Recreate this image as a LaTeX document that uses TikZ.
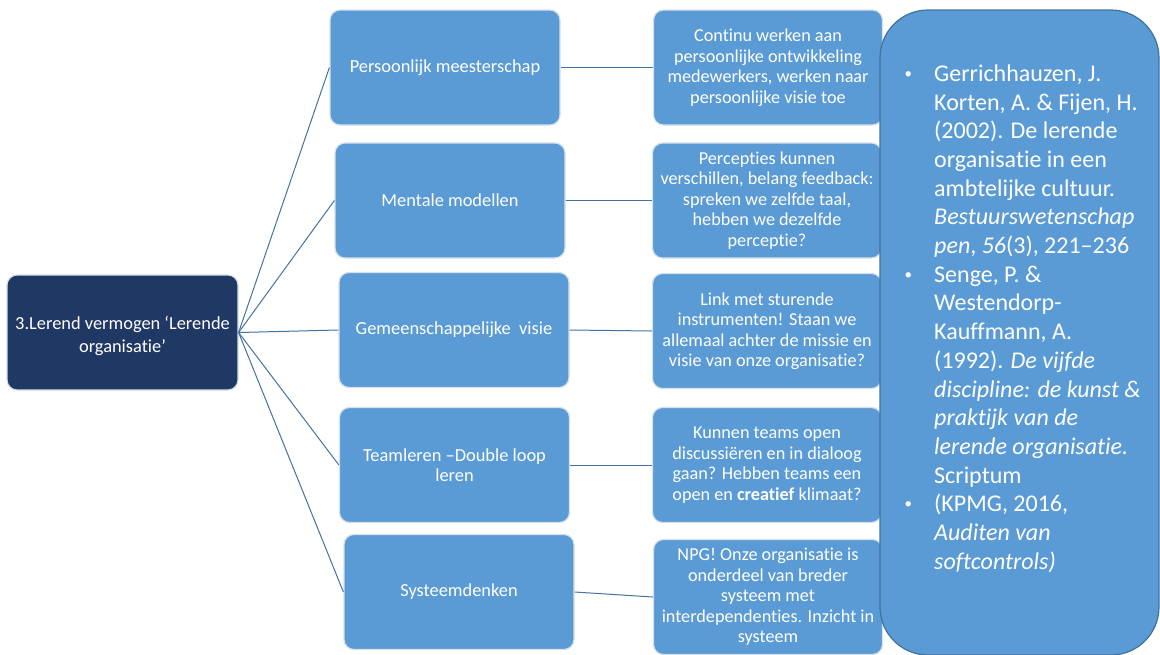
\documentclass[tikz,border=0pt]{standalone}
\usepackage{fontspec}
\setmainfont{Carlito}[Ligatures=NoCommon]
\definecolor{boxblue}{RGB}{91,155,213}
\definecolor{rootnavy}{RGB}{31,56,100}
\definecolor{linkblue}{RGB}{68,114,160}
\definecolor{edgeblue}{RGB}{65,113,156}
\definecolor{rimgrey}{RGB}{214,224,234}
\newcommand{\refbullet}{\llap{\raisebox{3pt}{\fontsize{15}{15}\selectfont\textbullet}\hspace{22pt}}}
\begin{document}
\begin{tikzpicture}[x=1pt,y=-1pt,
  card/.style={rectangle, rounded corners=10pt, fill=boxblue, draw=rimgrey,
    line width=1.2pt, text=white, align=center, inner sep=2pt},
  rootcard/.style={card, fill=rootnavy, minimum width=231pt, minimum height=115pt,
    font=\fontsize{18.4}{23}\selectfont},
  topic/.style={card, minimum width=230pt, minimum height=115pt,
    font=\fontsize{18.4}{20}\selectfont},
  detail/.style={card, minimum width=229pt, minimum height=115pt,
    font=\fontsize{18.2}{20.5}\selectfont},
  link/.style={draw=linkblue, line width=1pt}]
\useasboundingbox (0,0) rectangle (1160,654);

% root
\node[rootcard] (root) at (122.5,332.5) {\raisebox{-4pt}[\height][\depth]{\begin{tabular}{@{}c@{}}3.Lerend vermogen ‘Lerende\\organisatie’\end{tabular}}};

% five disciplines
\node[topic] (m1) at (445,67.5)  {Persoonlijk meesterschap};
\node[topic] (m2) at (450,200.5) {Mentale modellen};
\node[topic] (m3) at (454,330)   {Gemeenschappelijke\ \ visie};
\node[topic] (m4) at (454.5,465) {Teamleren –Double loop\\leren};
\node[topic] (m5) at (459,592)   {Systeemdenken};

% explanations
\node[detail] (r1) at (768,67.5)  {Continu werken aan\\persoonlijke ontwikkeling\\medewerkers, werken naar\\persoonlijke visie toe};
\node[detail] (r2) at (767,200.5) {Percepties kunnen\\verschillen, belang feedback:\\spreken we zelfde taal,\\hebben we dezelfde\\perceptie?};
\node[detail] (r3) at (767,331)   {Link met sturende\\instrumenten! Staan we\\allemaal achter de missie en\\visie van onze organisatie?};
\node[detail] (r4) at (767,465)   {Kunnen teams open\\discussiëren en in dialoog\\gaan? Hebben teams een\\open en \textbf{creatief} klimaat?};
\node[detail] (r5) at (768,597)   {NPG! Onze organisatie is\\onderdeel van breder\\systeem met\\interdependenties. Inzicht in\\systeem};

% connectors
\foreach \i in {1,...,5} {
  \draw[link] (root.east) -- (m\i.west);
  \draw[link] (m\i.east) -- (r\i.west);
}

% references panel
\node[rectangle, rounded corners=48pt, fill=boxblue, draw=edgeblue, line width=1.2pt,
  minimum width=279pt, minimum height=645pt] (refs) at (1019.5,332.5) {};
\node[anchor=north west, inner sep=0pt, text=white, align=left,
  font=\fontsize{24}{28.7}\selectfont] (reftext) at (934,64.5) {%
\refbullet Gerrichhauzen, J.\\
Korten, A. \& Fijen, H.\\
(2002). De lerende\\
organisatie in een\\
ambtelijke cultuur.\\
\textit{Bestuurswetenschap}\\
\textit{pen}, \textit{56}(3), 221–236\\
\refbullet Senge, P. \&\\
Westendorp-\\
Kauffmann, A.\\
(1992). \textit{De vijfde}\\
\textit{discipline: de kunst \&}\\
\textit{praktijk van de}\\
\textit{lerende organisatie.}\\
Scriptum\\
\refbullet (KPMG, 2016,\\
\textit{Auditen van}\\
\textit{softcontrols)}};
\end{tikzpicture}
\end{document}
